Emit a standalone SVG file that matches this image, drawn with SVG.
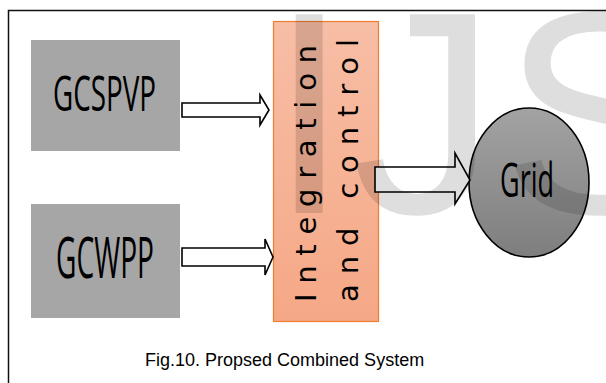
<svg xmlns="http://www.w3.org/2000/svg" width="606" height="383" viewBox="0 0 606 383">
<style>
.box{fill:#a6a6a6}
.lbl{font-family:"Open Sans","Noto Sans",sans-serif;fill:#000}
.arrow{fill:#fff;stroke:#000;stroke-width:1.6;stroke-linejoin:miter}
.rot{font-family:"DejaVu Sans",Verdana,sans-serif;font-size:29px;fill:#000}
</style>
<defs>
<linearGradient id="og" x1="0" y1="0" x2="0" y2="1">
<stop offset="0" stop-color="#f7bea6"/>
<stop offset="1" stop-color="#f5a886"/>
</linearGradient>
<linearGradient id="gg" x1="0" y1="0" x2="0" y2="1">
<stop offset="0" stop-color="#a3a3a3"/>
<stop offset="1" stop-color="#7e7e7e"/>
</linearGradient>
</defs>
<rect width="606" height="383" fill="#fff"/>
<rect x="8.5" y="10.5" width="610" height="390" fill="none" stroke="#111" stroke-width="1.5"/>
<g id="gcspvp">
<rect class="box" x="31" y="40" width="149" height="111"/>
<text class="lbl" x="53" y="111" font-size="49" textLength="103" lengthAdjust="spacingAndGlyphs">GCSPVP</text>
</g>
<g id="gcwpp">
<rect class="box" x="31" y="204" width="149" height="114"/>
<text class="lbl" x="56" y="278" font-size="56" textLength="98" lengthAdjust="spacingAndGlyphs">GCWPP</text>
</g>
<g id="integration">
<rect x="273.5" y="21.5" width="105" height="300" fill="url(#og)" stroke="#ed7d31" stroke-width="1.2"/>
<g transform="rotate(-90)">
<text class="rot" x="-302" y="316" textLength="257" lengthAdjust="spacing">Integration</text>
<text class="rot" x="-302" y="358" textLength="263" lengthAdjust="spacing">and control</text>
</g>
</g>
<g id="grid">
<ellipse cx="529" cy="182.5" rx="60" ry="74.5" fill="url(#gg)" stroke="#000" stroke-width="1.6"/>
<text class="lbl" x="500" y="197" font-size="48" textLength="54" lengthAdjust="spacingAndGlyphs">Grid</text>
</g>
<g id="connectors">
<path class="arrow" d="M182,103 H260 V95 L269,110 L260,125 V117 H182 Z"/>
<path class="arrow" d="M182,248 H265 V239 L273,257 L265,275 V266 H182 Z"/>
<path class="arrow" d="M375,167 H455 V153 L470,180 L455,204 V192 H375 Z"/>
</g>
<text x="145" y="366" font-family="Liberation Sans, Arial, sans-serif" font-size="18" fill="#000">Fig.10. Propsed Combined System</text>
<text y="213" font-family="Liberation Sans, Arial, sans-serif" font-size="289" fill="#000" fill-opacity="0.13"><tspan x="269">I</tspan><tspan x="352">J</tspan><tspan x="502">S</tspan></text>
</svg>
